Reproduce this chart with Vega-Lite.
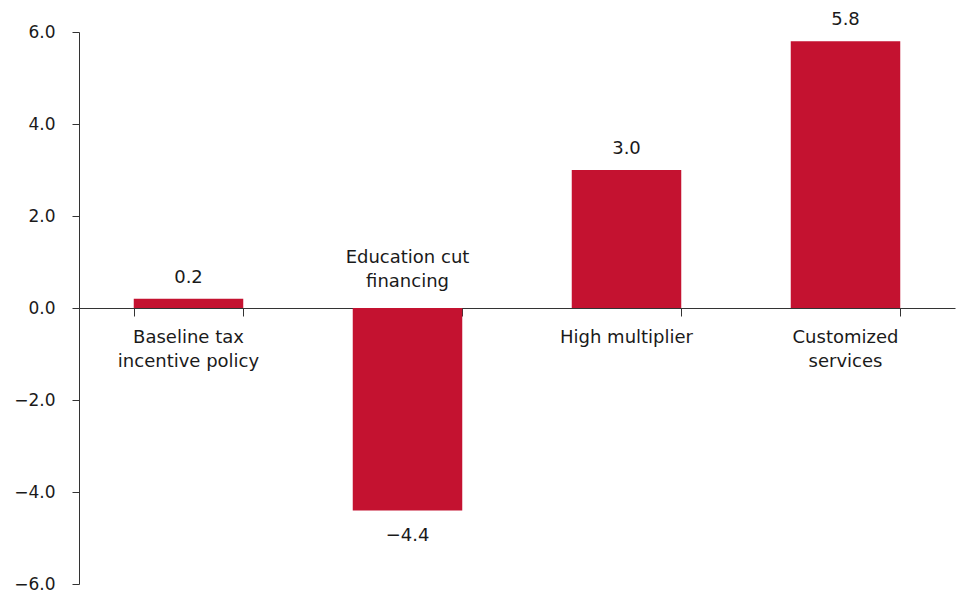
{
  "$schema": "https://vega.github.io/schema/vega-lite/v6.json",
  "width": 876,
  "height": 552,
  "autosize": "none",
  "padding": {"left": 79, "top": 32, "right": 7, "bottom": 8},
  "background": "white",
  "config": {
    "view": {"stroke": null},
    "font": "DejaVu Sans",
    "axis": {"labelFont": "DejaVu Sans", "labelColor": "#1a1a1a", "domainColor": "#333", "tickColor": "#333"}
  },
  "data": {
    "values": [
      {"category": "Baseline tax\nincentive policy", "value": 0.2},
      {"category": "Education cut\nfinancing", "value": -4.4},
      {"category": "High multiplier", "value": 3.0},
      {"category": "Customized\nservices", "value": 5.8}
    ]
  },
  "encoding": {
    "x": {
      "field": "category", "type": "nominal", "sort": null,
      "scale": {"paddingInner": 0.5, "paddingOuter": 0.25},
      "axis": {"labels": false, "title": null, "offset": -276, "tickBand": "extent", "tickSize": 8, "domainWidth": 1.2, "tickWidth": 1}
    },
    "y": {
      "field": "value", "type": "quantitative",
      "scale": {"domain": [-6, 6], "nice": false},
      "axis": {"title": null, "values": [-6, -4, -2, 0, 2, 4, 6], "format": ".1f", "grid": false, "tickSize": 7, "labelPadding": 17, "labelFontSize": 17}
    }
  },
  "layer": [
    {"mark": {"type": "bar", "color": "#C41230"}},
    {
      "transform": [{"filter": "datum.value >= 0"}],
      "mark": {"type": "text", "baseline": "bottom", "dy": -12, "fontSize": 18, "color": "#1a1a1a"},
      "encoding": {"text": {"field": "value", "type": "quantitative", "format": ".1f"}}
    },
    {
      "transform": [{"filter": "datum.value < 0"}],
      "mark": {"type": "text", "baseline": "top", "dy": 17, "fontSize": 18, "color": "#1a1a1a"},
      "encoding": {"text": {"field": "value", "type": "quantitative", "format": ".1f"}}
    },
    {
      "transform": [{"filter": "datum.value >= 0"}],
      "mark": {"type": "text", "baseline": "top", "dy": 21, "fontSize": 18, "lineHeight": 24, "lineBreak": "\n", "color": "#1a1a1a"},
      "encoding": {"y": {"datum": 0}, "text": {"field": "category"}}
    },
    {
      "transform": [{"filter": "datum.value < 0"}],
      "mark": {"type": "text", "baseline": "bottom", "dy": -41, "fontSize": 18, "lineHeight": 24, "lineBreak": "\n", "color": "#1a1a1a"},
      "encoding": {"y": {"datum": 0}, "text": {"field": "category"}}
    }
  ]
}
